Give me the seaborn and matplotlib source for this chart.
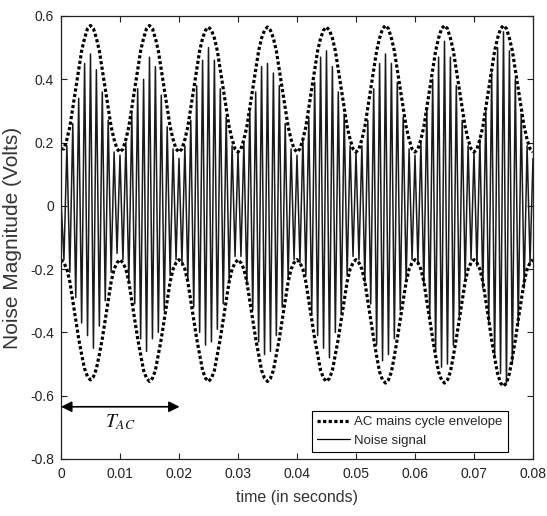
import numpy as np
import pandas as pd
import matplotlib
matplotlib.use("Agg")
import matplotlib.pyplot as plt
import seaborn as sns
from matplotlib.lines import Line2D

# ---------------- data ----------------
time_start, time_end, n_samples = 0.0, 0.08, 161   # one sample every 0.5 ms

envelope_upper = [
    0.18, 0.18, 0.21, 0.25, 0.31, 0.37, 0.43, 0.49, 0.53, 0.56, 0.57, 0.56, 0.53, 0.49, 0.43, 0.37, 0.31, 0.25, 0.21, 0.18,
    0.17, 0.18, 0.21, 0.25, 0.31, 0.37, 0.43, 0.49, 0.53, 0.56, 0.57, 0.56, 0.53, 0.49, 0.43, 0.37, 0.31, 0.25, 0.21, 0.18,
    0.17, 0.18, 0.21, 0.25, 0.31, 0.37, 0.43, 0.49, 0.53, 0.555, 0.565, 0.555, 0.53, 0.49, 0.43, 0.37, 0.31, 0.25, 0.21, 0.18,
    0.17, 0.18, 0.21, 0.25, 0.31, 0.37, 0.43, 0.49, 0.53, 0.555, 0.565, 0.555, 0.53, 0.49, 0.43, 0.37, 0.31, 0.25, 0.21, 0.18,
    0.17, 0.18, 0.21, 0.25, 0.31, 0.37, 0.43, 0.49, 0.53, 0.555, 0.565, 0.555, 0.53, 0.49, 0.43, 0.37, 0.31, 0.25, 0.21, 0.18,
    0.17, 0.18, 0.21, 0.25, 0.31, 0.37, 0.43, 0.49, 0.53, 0.56, 0.57, 0.56, 0.53, 0.49, 0.43, 0.37, 0.31, 0.25, 0.21, 0.18,
    0.17, 0.18, 0.21, 0.25, 0.31, 0.37, 0.43, 0.49, 0.53, 0.56, 0.57, 0.56, 0.53, 0.49, 0.43, 0.37, 0.31, 0.25, 0.21, 0.18,
    0.17, 0.18, 0.21, 0.25, 0.31, 0.37, 0.43, 0.49, 0.53, 0.56, 0.57, 0.56, 0.53, 0.49, 0.43, 0.37, 0.31, 0.25, 0.21, 0.18,
    0.17,
]

envelope_lower = [
    -0.17, -0.18, -0.20, -0.24, -0.30, -0.36, -0.42, -0.47, -0.515, -0.54, -0.55, -0.54, -0.515, -0.47, -0.42, -0.36, -0.30, -0.24, -0.20, -0.18,
    -0.17, -0.18, -0.20, -0.24, -0.30, -0.36, -0.42, -0.47, -0.52, -0.545, -0.555, -0.545, -0.52, -0.47, -0.42, -0.36, -0.30, -0.24, -0.20, -0.18,
    -0.17, -0.18, -0.20, -0.24, -0.30, -0.36, -0.42, -0.47, -0.52, -0.545, -0.555, -0.545, -0.52, -0.47, -0.42, -0.36, -0.30, -0.24, -0.20, -0.18,
    -0.17, -0.18, -0.20, -0.24, -0.30, -0.36, -0.42, -0.47, -0.52, -0.545, -0.555, -0.545, -0.52, -0.47, -0.42, -0.36, -0.30, -0.24, -0.20, -0.18,
    -0.17, -0.18, -0.20, -0.24, -0.30, -0.36, -0.42, -0.47, -0.52, -0.545, -0.555, -0.545, -0.52, -0.47, -0.42, -0.36, -0.30, -0.24, -0.20, -0.18,
    -0.17, -0.18, -0.20, -0.24, -0.30, -0.36, -0.42, -0.475, -0.525, -0.55, -0.56, -0.55, -0.525, -0.475, -0.42, -0.36, -0.30, -0.24, -0.20, -0.18,
    -0.17, -0.18, -0.20, -0.24, -0.30, -0.36, -0.42, -0.475, -0.525, -0.55, -0.56, -0.55, -0.525, -0.475, -0.42, -0.36, -0.30, -0.24, -0.20, -0.18,
    -0.17, -0.18, -0.20, -0.24, -0.30, -0.36, -0.425, -0.48, -0.53, -0.56, -0.57, -0.56, -0.53, -0.48, -0.425, -0.36, -0.30, -0.24, -0.20, -0.18,
    -0.17,
]

noise_signal = [
    0.02, -0.17, 0.19, -0.21, 0.26, -0.29, 0.34, -0.37, 0.45, -0.41, 0.48, -0.45, 0.43, -0.38, 0.36, -0.30, 0.27, -0.21, 0.17, -0.15,
    0.16, -0.17, 0.20, -0.24, 0.29, -0.31, 0.37, -0.42, 0.40, -0.46, 0.47, -0.42, 0.44, -0.40, 0.35, -0.33, 0.25, -0.22, 0.18, -0.17,
    0.15, -0.18, 0.19, -0.23, 0.27, -0.32, 0.38, -0.40, 0.46, -0.44, 0.50, -0.43, 0.46, -0.39, 0.37, -0.31, 0.28, -0.24, 0.19, -0.16,
    0.17, -0.16, 0.20, -0.25, 0.30, -0.33, 0.36, -0.43, 0.44, -0.47, 0.45, -0.46, 0.42, -0.41, 0.38, -0.32, 0.26, -0.23, 0.18, -0.17,
    0.16, -0.18, 0.21, -0.22, 0.28, -0.34, 0.39, -0.41, 0.47, -0.45, 0.49, -0.48, 0.44, -0.40, 0.36, -0.34, 0.29, -0.22, 0.19, -0.16,
    0.17, -0.17, 0.19, -0.24, 0.27, -0.31, 0.37, -0.44, 0.45, -0.49, 0.48, -0.47, 0.45, -0.42, 0.39, -0.33, 0.28, -0.24, 0.18, -0.17,
    0.16, -0.18, 0.20, -0.25, 0.31, -0.35, 0.40, -0.46, 0.47, -0.51, 0.52, -0.50, 0.47, -0.44, 0.38, -0.35, 0.27, -0.23, 0.19, -0.17,
    0.17, -0.19, 0.21, -0.26, 0.30, -0.37, 0.42, -0.48, 0.50, -0.53, 0.55, -0.56, 0.49, -0.50, 0.40, -0.38, 0.29, -0.26, 0.19, -0.18,
    0.15,
]

x_ticks = [0, 0.01, 0.02, 0.03, 0.04, 0.05, 0.06, 0.07, 0.08]
x_tick_labels = ["0", "0.01", "0.02", "0.03", "0.04", "0.05", "0.06", "0.07", "0.08"]
y_ticks = [-0.8, -0.6, -0.4, -0.2, 0, 0.2, 0.4, 0.6]
y_tick_labels = ["-0.8", "-0.6", "-0.4", "-0.2", "0", "0.2", "0.4", "0.6"]

label_envelope = "AC mains cycle envelope"
label_noise = "Noise signal"
period_label = r"$T_{AC}$"
period_start, period_end, period_level = 0.0, 0.0201, -0.635

# ---------------- figure ----------------
sns.set_style("ticks")
plt.rcParams["font.family"] = ["Liberation Sans", "DejaVu Sans"]
plt.rcParams["mathtext.fontset"] = "stix"
plt.rcParams["xtick.direction"] = "in"
plt.rcParams["ytick.direction"] = "in"

time = np.linspace(time_start, time_end, n_samples)
df = pd.DataFrame({"time": time, "upper": envelope_upper,
                   "lower": envelope_lower, "noise": noise_signal})

fig = plt.figure(figsize=(5.47, 5.16), dpi=100)
ax = fig.add_axes([0.1115, 0.1105, 0.9744 - 0.1115, 0.969 - 0.1105])

sns.lineplot(data=df, x="time", y="noise", ax=ax, color="#1a1a1a", lw=1.1,
             estimator=None, sort=False)
env_kw = dict(color="black", lw=2.3, estimator=None, sort=False)
sns.lineplot(data=df, x="time", y="upper", ax=ax, **env_kw)
sns.lineplot(data=df, x="time", y="lower", ax=ax, **env_kw)
for ln in ax.lines[1:3]:
    ln.set_dashes((1.0, 0.75))
    ln.set_dash_capstyle("butt")

ax.set_xlim(time_start, time_end)
ax.set_ylim(-0.8, 0.6)
ax.set_xticks(x_ticks)
ax.set_xticklabels(x_tick_labels)
ax.set_yticks(y_ticks)
ax.set_yticklabels(y_tick_labels)
ax.tick_params(axis="both", which="both", top=True, right=True, length=4,
               width=0.8, labelsize=10, colors="#222222", pad=6)
ax.tick_params(axis="y", pad=5)
for s in ax.spines.values():
    s.set_visible(True)
    s.set_linewidth(0.9)
    s.set_color("#222222")

ax.set_xlabel("time (in seconds)", fontsize=11.5, color="#333333", labelpad=6)
ax.set_ylabel("Noise Magnitude (Volts)", fontsize=15, color="#333333", labelpad=6)

# period arrow
ax.annotate("", xy=(period_start, period_level), xytext=(period_end, period_level),
            arrowprops=dict(arrowstyle="<|-|>", color="black", lw=1.2,
                            mutation_scale=16, shrinkA=0, shrinkB=0))
ax.text((period_start + period_end) / 2, -0.683, period_label, fontsize=14,
        ha="center", va="center", color="#111111")

# legend
h_env = Line2D([], [], color="black", lw=2.3, dashes=(1.0, 0.75), dash_capstyle="butt")
h_noise = Line2D([], [], color="black", lw=0.9)
leg = ax.legend([h_env, h_noise], [label_envelope, label_noise], loc="lower right",
                bbox_to_anchor=(0.947, 0.016), borderaxespad=0, fontsize=9.5,
                fancybox=False, framealpha=1, edgecolor="black",
                handlelength=2.5, handletextpad=0.3, borderpad=0.4, labelspacing=0.45)
leg.get_frame().set_linewidth(0.8)

fig.savefig("out.png", dpi=100)
